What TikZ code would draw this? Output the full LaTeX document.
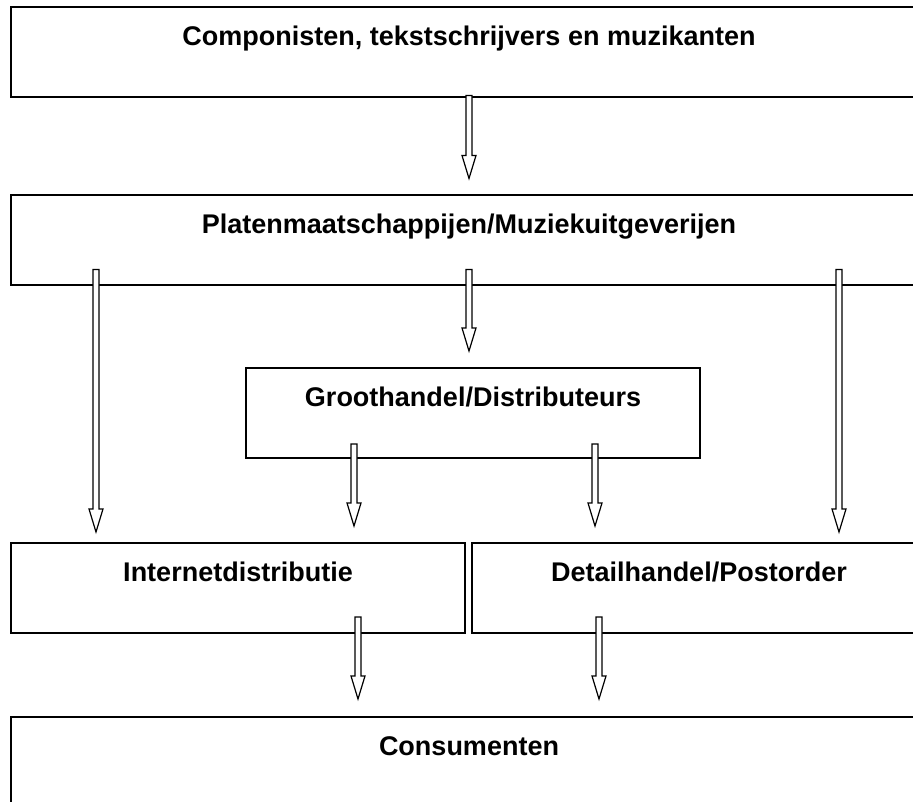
\documentclass[tikz,border=0pt]{standalone}
\usepackage{fontspec}
\setmainfont{Liberation Sans}
\usetikzlibrary{calc,positioning}
% hollow block arrow: start point, target anchor, gap above target
\newcommand{\blockarrow}[3]{
  \draw[arrowline] let \p1=#1, \p2=#2 in
    (\x1-3pt,\y1) -- (\x1+3pt,\y1) -- (\x1+3pt,\y2+#3+23pt) -- (\x1+7pt,\y2+#3+23pt)
    -- (\x1,\y2+#3) -- (\x1-7pt,\y2+#3+23pt) -- (\x1-3pt,\y2+#3+23pt) -- cycle;
}

\begin{document}
\begin{tikzpicture}[
  x=1pt,y=1pt,
  box/.style={draw,line width=2pt,inner sep=0pt,minimum height=90pt,
    text height=38pt,text depth=52pt,font=\fontsize{27}{31}\selectfont\bfseries},
  wide/.style={box,minimum width=916pt},
  half/.style={box,minimum width=454pt},
  arrowline/.style={draw,fill=white,line width=1.2pt,line join=miter},
  ]
  \useasboundingbox (0,0) rectangle (913,-802);
  \clip (0,0) rectangle (913,-802);
  \node(comp)[wide] at (469,-52.5) {Componisten, tekstschrijvers en muzikanten};
  \node(plat)[wide,below=96pt of comp] {Platenmaatschappijen/Muziekuitgeverijen};
  \node(groot)[half] at (473,-413) {Groothandel/Distributeurs};
  \node(inet)[half] at (238,-588) {Internetdistributie};
  \node(detail)[half,right=5pt of inet] {Detailhandel/Postorder};
  \node(cons)[wide] at (469,-762) {Consumenten};

  \blockarrow{($(comp.south)+(0,3)$)}{(plat.north)}{16pt}
  \blockarrow{($(plat.south west)+(86,17)$)}{(inet.north)}{10pt}
  \blockarrow{($(plat.south)+(0,17)$)}{(groot.north)}{16pt}
  \blockarrow{($(plat.south east)+(-89,17)$)}{(detail.north)}{10pt}
  \blockarrow{($(groot.south)+(-119,15)$)}{(inet.north)}{16pt}
  \blockarrow{($(groot.south)+(122,15)$)}{(detail.north)}{16pt}
  \blockarrow{($(inet.south east)+(-108,17)$)}{(cons.north)}{17pt}
  \blockarrow{($(detail.south west)+(128,17)$)}{(cons.north)}{17pt}
\end{tikzpicture}
\end{document}
